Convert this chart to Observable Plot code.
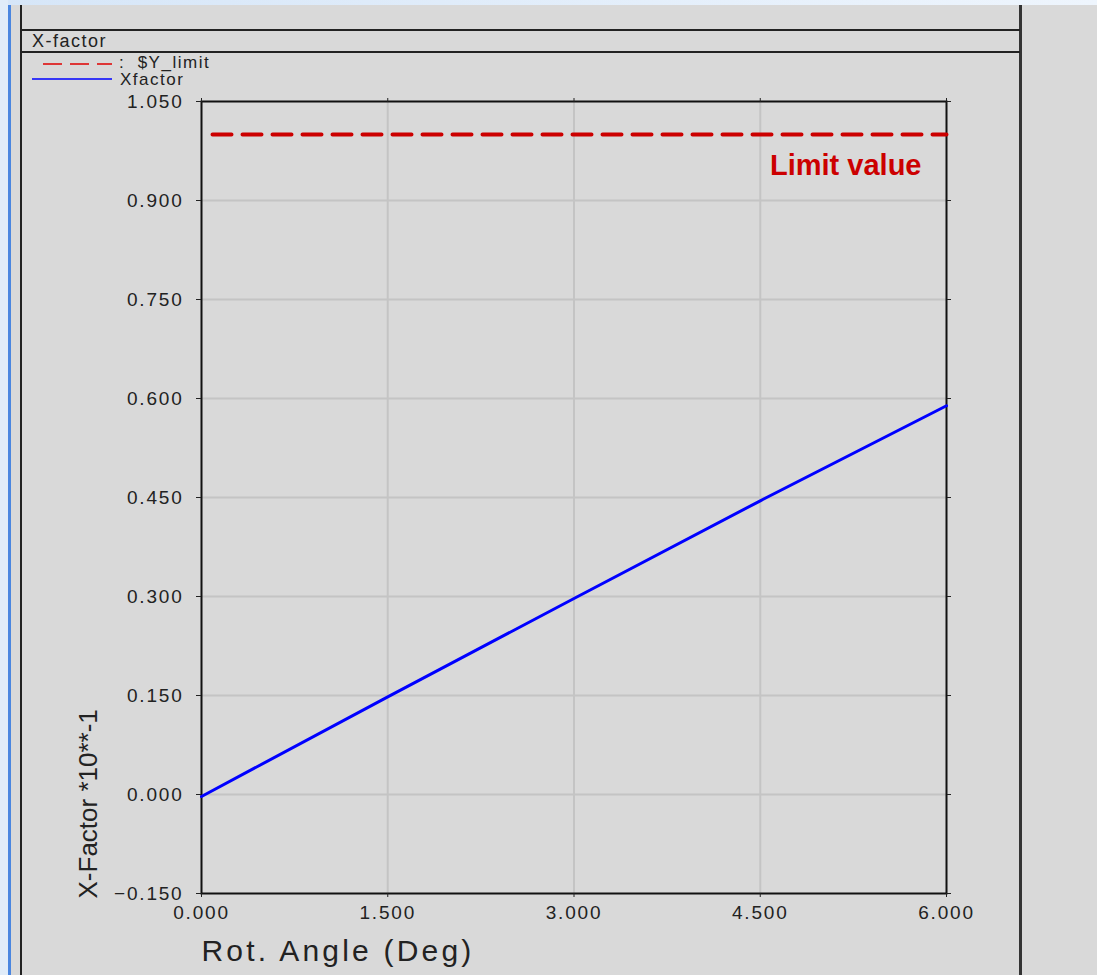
<!DOCTYPE html>
<html>
<head>
<meta charset="utf-8">
<script src="https://cdn.jsdelivr.net/npm/d3@7"></script>
<script src="https://cdn.jsdelivr.net/npm/@observablehq/plot@0.6"></script>
<style>
  html, body { margin: 0; padding: 0; background: #d9d9d9; }
  #wrap { position: relative; width: 1097px; height: 975px; background: #d9d9d9; overflow: hidden;
          font-family: "Liberation Sans", "DejaVu Sans", sans-serif; color: #222; }
  .abs { position: absolute; }
  #chart { position: absolute; left: 0; top: 0; }
  .lbl { position: absolute; font-size: 17px; line-height: 1; letter-spacing: 1.5px; color: #222; white-space: pre; }
  #chart g[aria-label$="tick label"] text { letter-spacing: 1.8px; }
</style>
</head>
<body>
<div id="wrap">
  <div class="abs" style="left:0;top:0;width:1097px;height:5px;background:linear-gradient(90deg,#d6e6f8,#eef5fd);"></div>
  <div class="abs" style="left:0;top:0;width:8px;height:975px;background:#e0ecf9;"></div>
  <div class="abs" style="left:8px;top:5px;width:3px;height:970px;background:#4a86e0;"></div>
  <div class="abs" style="left:20px;top:5px;width:2px;height:970px;background:#222;"></div>
  <div class="abs" style="left:1019px;top:5px;width:3px;height:970px;background:#333;"></div>
  <div class="abs" style="left:21px;top:29px;width:999px;height:1.5px;background:#222;"></div>
  <div class="abs" style="left:21px;top:51px;width:999px;height:1.5px;background:#222;"></div>
  <div id="chart"></div>
  <div id="header" class="lbl" style="left:32px;top:32px;font-size:18px;"></div>
  <svg class="abs" style="left:0;top:0;" width="240" height="100">
    <line x1="43" x2="112" y1="64" y2="64" stroke="#e00000" stroke-width="1.5" stroke-dasharray="19,8"></line>
    <line x1="32" x2="112" y1="79" y2="79" stroke="#0000ff" stroke-width="1.5"></line>
  </svg>
  <div id="leg1" class="lbl" style="left:119px;top:54px;"></div>
  <div id="leg2" class="lbl" style="left:120px;top:71px;"></div>
</div>
<script>
// ---- data ----
const headerTitle = "X-factor";
const legendLabels = [":  $Y_limit", "Xfactor"];
const xTitle = "Rot. Angle (Deg)";
const yTitle = "X-Factor *10**-1";
const limitLabel = ["Limit value"];

const xTicks = [0, 1.5, 3.0, 4.5, 6.0];
const yTicks = [-0.15, 0.0, 0.15, 0.30, 0.45, 0.60, 0.75, 0.90, 1.05];
const xGrid = [1.5, 3.0, 4.5];
const yGrid = [0.0, 0.15, 0.30, 0.45, 0.60, 0.75, 0.90];

const angle = [0, 1.5, 3.0, 4.5, 6.0];
const xfactor = [-0.003, 0.148, 0.297, 0.445, 0.589];
const limitX = [0, 6.0];
const limitY = [1.0, 1.0];

// ---- tables ----
const lineData = angle.map((a, i) => ({a, v: xfactor[i]}));
const limitData = limitX.map((a, i) => ({a, v: limitY[i]}));

document.getElementById("header").textContent = headerTitle;
document.getElementById("leg1").textContent = legendLabels[0];
document.getElementById("leg2").textContent = legendLabels[1];

const fmt = d3.format(".3f");
const tickFmt = d => fmt(d).replace("-", "\u2212");
const noLabel = () => "";
const font = "Liberation Sans, DejaVu Sans, sans-serif";

const chart = Plot.plot({
  width: 1097,
  height: 975,
  marginLeft: 201,
  marginRight: 151,
  marginTop: 101,
  marginBottom: 82,
  style: {background: "transparent", fontFamily: font, fontSize: "19px", color: "#222", overflow: "visible"},
  x: {domain: [0, 6], ticks: xTicks, tickFormat: tickFmt},
  y: {domain: [-0.15, 1.05], ticks: yTicks, tickFormat: tickFmt},
  marks: [
    Plot.ruleX(xGrid, {stroke: "#c4c4c4", strokeWidth: 2}),
    Plot.ruleY(yGrid, {stroke: "#c4c4c4", strokeWidth: 2}),
    Plot.frame({stroke: "#111", strokeWidth: 2}),
    Plot.axisX({anchor: "bottom", ticks: xTicks, tickFormat: tickFmt, tickSize: 4, tickPadding: 8, label: null, fontSize: 19}),
    Plot.axisX({anchor: "top", ticks: xTicks, tickFormat: noLabel, tickSize: 4, label: null}),
    Plot.axisY({anchor: "left", ticks: yTicks, tickFormat: tickFmt, tickSize: 5, tickPadding: 13, label: null, fontSize: 19}),
    Plot.axisY({anchor: "right", ticks: yTicks, tickFormat: noLabel, tickSize: 4, label: null}),
    Plot.line(limitData, {x: "a", y: "v", stroke: "#cc0000", strokeWidth: 4, strokeDasharray: "19,11", strokeDashoffset: 19}),
    Plot.line(lineData, {x: "a", y: "v", stroke: "#0000ff", strokeWidth: 3}),
    Plot.text(limitLabel, {x: 6, y: limitY[0], text: d => d, dx: -25, dy: 31, textAnchor: "end", lineAnchor: "middle",
      fill: "#cc0000", fontWeight: "bold", fontSize: 29, fontFamily: font}),
    Plot.text([xTitle], {frameAnchor: "bottom-left", text: d => d, dy: 58, textAnchor: "start", lineAnchor: "middle",
      fontSize: 30, fill: "#222", fontFamily: font}),
    Plot.text([yTitle], {frameAnchor: "bottom-left", text: d => d, dx: -113, dy: 5, rotate: -90, textAnchor: "start", lineAnchor: "middle",
      fontSize: 26, fill: "#222", fontFamily: font})
  ]
});
// letter spacing for the wide, plotter-style titles
d3.select(chart).selectAll("text").each(function() {
  const t = this.textContent;
  if (t === xTitle) this.setAttribute("letter-spacing", "3.2");
});
document.getElementById("chart").appendChild(chart);
</script>
</body>
</html>
